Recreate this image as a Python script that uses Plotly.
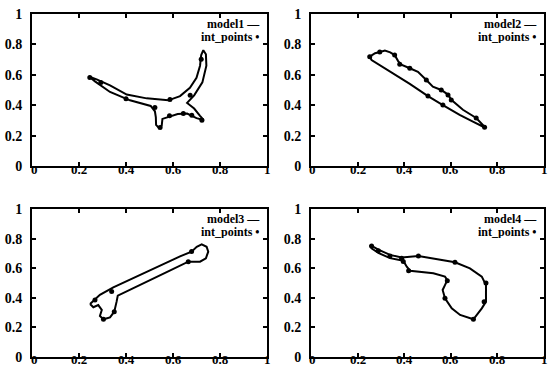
import plotly.graph_objects as go

# ---- data ----
m1_x = [0.244, 0.275, 0.332, 0.403, 0.488, 0.580, 0.630, 0.672, 0.700, 0.715, 0.720, 0.729, 0.740, 0.742, 0.725, 0.690, 0.660, 0.690, 0.715, 0.730, 0.700, 0.660, 0.620, 0.585, 0.555, 0.552, 0.540, 0.528, 0.527, 0.523, 0.505, 0.417, 0.332, 0.268, 0.244]
m1_y = [0.588, 0.570, 0.530, 0.470, 0.445, 0.432, 0.460, 0.515, 0.580, 0.660, 0.730, 0.762, 0.735, 0.660, 0.550, 0.465, 0.415, 0.378, 0.330, 0.303, 0.315, 0.345, 0.342, 0.325, 0.310, 0.265, 0.250, 0.270, 0.320, 0.360, 0.395, 0.432, 0.487, 0.557, 0.588]
p1_x = [0.246, 0.293, 0.400, 0.587, 0.673, 0.720, 0.523, 0.585, 0.644, 0.680, 0.723, 0.545]
p1_y = [0.582, 0.549, 0.442, 0.437, 0.466, 0.703, 0.385, 0.330, 0.345, 0.334, 0.301, 0.253]

m2_x = [0.252, 0.275, 0.300, 0.317, 0.340, 0.359, 0.374, 0.385, 0.424, 0.459, 0.495, 0.523, 0.559, 0.588, 0.602, 0.652, 0.709, 0.745, 0.750, 0.695, 0.638, 0.566, 0.502, 0.424, 0.324, 0.260, 0.252]
m2_y = [0.719, 0.742, 0.752, 0.759, 0.748, 0.730, 0.690, 0.668, 0.643, 0.620, 0.566, 0.522, 0.500, 0.470, 0.436, 0.370, 0.316, 0.262, 0.250, 0.292, 0.336, 0.401, 0.460, 0.540, 0.635, 0.697, 0.719]
p2_x = [0.252, 0.295, 0.359, 0.381, 0.424, 0.495, 0.559, 0.588, 0.602, 0.709, 0.745, 0.502, 0.566]
p2_y = [0.719, 0.750, 0.730, 0.669, 0.643, 0.566, 0.500, 0.467, 0.434, 0.316, 0.255, 0.460, 0.401]

m3_x = [0.247, 0.268, 0.289, 0.346, 0.431, 0.530, 0.630, 0.679, 0.701, 0.722, 0.743, 0.750, 0.740, 0.715, 0.687, 0.665, 0.573, 0.474, 0.389, 0.365, 0.360, 0.350, 0.332, 0.304, 0.289, 0.297, 0.282, 0.261, 0.247]
m3_y = [0.358, 0.392, 0.420, 0.471, 0.534, 0.608, 0.680, 0.712, 0.745, 0.761, 0.745, 0.712, 0.667, 0.644, 0.644, 0.644, 0.574, 0.500, 0.435, 0.415, 0.374, 0.306, 0.268, 0.255, 0.277, 0.318, 0.351, 0.336, 0.358]
p3_x = [0.339, 0.268, 0.304, 0.350, 0.665, 0.679]
p3_y = [0.443, 0.385, 0.255, 0.306, 0.644, 0.712]

m4_x = [0.253, 0.289, 0.339, 0.389, 0.461, 0.539, 0.618, 0.682, 0.733, 0.751, 0.751, 0.733, 0.697, 0.640, 0.604, 0.575, 0.565, 0.575, 0.585, 0.575, 0.525, 0.425, 0.411, 0.396, 0.339, 0.289, 0.260, 0.253]
m4_y = [0.757, 0.725, 0.690, 0.672, 0.682, 0.660, 0.640, 0.599, 0.543, 0.486, 0.374, 0.329, 0.255, 0.284, 0.329, 0.397, 0.453, 0.486, 0.520, 0.543, 0.566, 0.583, 0.610, 0.651, 0.668, 0.703, 0.734, 0.757]
p4_x = [0.260, 0.289, 0.339, 0.389, 0.461, 0.618, 0.751, 0.743, 0.697, 0.575, 0.585, 0.419, 0.396]
p4_y = [0.750, 0.718, 0.682, 0.667, 0.682, 0.640, 0.500, 0.374, 0.255, 0.397, 0.515, 0.583, 0.645]

model_names = ["model1", "model2", "model3", "model4"]
tick_vals = [0, 0.2, 0.4, 0.6, 0.8, 1]
tick_text = ["0", "0.2", "0.4", "0.6", "0.8", "1"]

models = [(m1_x, m1_y, p1_x, p1_y), (m2_x, m2_y, p2_x, p2_y),
          (m3_x, m3_y, p3_x, p3_y), (m4_x, m4_y, p4_x, p4_y)]

W, H = 551, 367
# panel pixel boxes (left, right, top, bottom)
boxes = [(32, 267, 14, 166), (311, 544, 14, 166), (32, 267, 209, 357), (311, 544, 209, 357)]

fig = go.Figure()
FONT = "Liberation Serif"
TF = dict(family=FONT, size=14, color="black", weight="bold")
XF = dict(family=FONT, size=13, color="black", weight="bold")
LF = dict(family=FONT, size=12, color="black", weight="bold")
layout = dict(width=W, height=H, margin=dict(l=0, r=0, t=0, b=0, autoexpand=False),
              paper_bgcolor="white", plot_bgcolor="white", showlegend=False)
annotations = []
for i, ((mx, my, px, py), (l, r, t, b)) in enumerate(zip(models, boxes)):
    xa = "x" if i == 0 else f"x{i+1}"
    ya = "y" if i == 0 else f"y{i+1}"
    fig.add_trace(go.Scatter(x=mx, y=my, mode="lines", line=dict(color="black", width=2),
                             xaxis=xa, yaxis=ya, name=model_names[i]))
    fig.add_trace(go.Scatter(x=px, y=py, mode="markers", marker=dict(color="black", size=5),
                             xaxis=xa, yaxis=ya, name="int_points"))
    axcommon = dict(range=[0, 1], showgrid=False, zeroline=False, showline=True, linecolor="black",
                    linewidth=2, mirror="ticks", ticks="inside", ticklen=4, tickwidth=2, tickcolor="black",
                    tickvals=tick_vals, automargin=False)
    xkey = "xaxis" if i == 0 else f"xaxis{i+1}"
    ykey = "yaxis" if i == 0 else f"yaxis{i+1}"
    layout[xkey] = dict(axcommon, domain=[l / W, r / W], anchor=ya, showticklabels=False)
    layout[ykey] = dict(axcommon, domain=[1 - b / H, 1 - t / H], anchor=xa,
                        ticktext=tick_text, tickfont=TF, ticklabelstandoff=5)
    # x tick labels sit right on the bottom frame line, as in the original
    dy = 4 if i < 2 else 2
    for v, s in zip(tick_vals, tick_text):
        annotations.append(dict(xref=xa, yref="paper", x=v, y=1 - (b + dy) / H, text=s,
                                showarrow=False, xanchor="center", yanchor="middle",
                                xshift=2 if v == 0 else 0, font=XF, borderpad=0))
    annotations.append(dict(xref="paper", yref="paper", x=(r - 6) / W, y=1 - (t + 10) / H,
                            text=model_names[i] + " —", showarrow=False, xanchor="right", yanchor="middle",
                            height=12, borderpad=0, font=LF))
    annotations.append(dict(xref="paper", yref="paper", x=(r - 6) / W, y=1 - (t + 23) / H,
                            text="int_points •", showarrow=False, xanchor="right", yanchor="middle",
                            height=12, borderpad=0, font=LF))
layout["annotations"] = annotations
fig.update_layout(**layout)
fig.write_html("out.html", config={"displayModeBar": False},
               post_script="document.body.style.margin='0';")
